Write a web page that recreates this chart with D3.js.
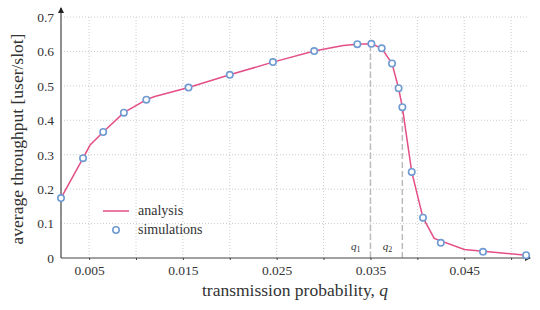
<!DOCTYPE html>
<html>
<head>
<meta charset="utf-8">
<script src="https://cdn.jsdelivr.net/npm/d3@7"></script>
<style>
  body { margin: 0; background: #fff; }
  text { font-family: "Liberation Serif", "DejaVu Serif", serif; fill: #333; }
</style>
</head>
<body>
<script>
// Simulation points (q, throughput)
var simQ = [0.002, 0.00435, 0.0065, 0.0087, 0.0111, 0.0156, 0.02, 0.0246, 0.029, 0.0336,
            0.0351, 0.0362, 0.0373, 0.038, 0.0384, 0.0394, 0.0406, 0.0425, 0.047, 0.0516];
var simVal = [0.174, 0.29, 0.366, 0.422, 0.46, 0.495, 0.532, 0.569, 0.601, 0.621,
              0.622, 0.609, 0.565, 0.493, 0.438, 0.25, 0.117, 0.044, 0.018, 0.008];

// Analysis curve (q, throughput)
var anaQ = [0.002, 0.00435, 0.0051, 0.0065, 0.0087, 0.0111, 0.012, 0.0156, 0.02, 0.0246,
            0.029, 0.0321, 0.0336, 0.0351, 0.0362, 0.0373, 0.038, 0.0384, 0.0394, 0.0406,
            0.0418, 0.045, 0.0516];
var anaVal = [0.174, 0.29, 0.328, 0.366, 0.422, 0.46, 0.469, 0.495, 0.532, 0.569,
              0.601, 0.617, 0.621, 0.622, 0.609, 0.565, 0.493, 0.438, 0.25, 0.117,
              0.057, 0.025, 0.008];

var xTicks = [0.005, 0.015, 0.025, 0.035, 0.045];
var xGrid = [0.005, 0.01, 0.015, 0.02, 0.025, 0.03, 0.035, 0.04, 0.045, 0.05];
var yTicks = [0, 0.1, 0.2, 0.3, 0.4, 0.5, 0.6, 0.7];

// Critical points q1, q2
var markQ = [0.035, 0.0384];
var markVal = [0.622, 0.438];
var markLabel = ["1", "2"];

var width = 540, height = 310;
var margin = { left: 61, right: 12, top: 10, bottom: 52 };

var svg = d3.select("body").append("svg")
    .attr("width", width)
    .attr("height", height);

var x = d3.scaleLinear().domain([0.002, 0.0518]).range([margin.left, width - margin.right]);
var y = d3.scaleLinear().domain([0, 0.7]).range([height - margin.bottom, 17]);

var axisColor = "#444";

// Grid
svg.append("g").selectAll("line")
    .data(xGrid)
    .enter().append("line")
    .attr("x1", function(d) { return x(d); })
    .attr("x2", function(d) { return x(d); })
    .attr("y1", y(0))
    .attr("y2", y(0.7))
    .style("stroke", "#ccc")
    .style("stroke-width", 1)
    .style("stroke-dasharray", "1,2");

svg.append("g").selectAll("line")
    .data(yTicks.slice(1))
    .enter().append("line")
    .attr("x1", x.range()[0])
    .attr("x2", x.range()[1])
    .attr("y1", function(d) { return y(d); })
    .attr("y2", function(d) { return y(d); })
    .style("stroke", "#ccc")
    .style("stroke-width", 1)
    .style("stroke-dasharray", "1,2");

// Dashed q1 / q2 lines
svg.append("g").selectAll("line")
    .data(markQ)
    .enter().append("line")
    .attr("x1", function(d) { return x(d); })
    .attr("x2", function(d) { return x(d); })
    .attr("y1", y(0))
    .attr("y2", function(d, i) { return y(markVal[i]); })
    .style("stroke", "#bbb")
    .style("stroke-width", 1.5)
    .style("stroke-dasharray", "6,3");

var qLab = svg.append("g").selectAll("text")
    .data(markQ)
    .enter().append("text")
    .attr("x", function(d) { return x(d) - 10; })
    .attr("y", y(0) - 8)
    .attr("text-anchor", "end")
    .style("font-size", "11px")
    .style("font-style", "italic")
    .text("q");
qLab.append("tspan")
    .attr("dy", 2)
    .style("font-size", "8px")
    .style("font-style", "normal")
    .text(function(d, i) { return markLabel[i]; });

// Axes
var xAxis = svg.append("g")
    .attr("transform", "translate(0," + y(0) + ")")
    .call(d3.axisBottom(x).tickValues(xGrid).tickSize(2).tickPadding(2)
      .tickFormat(function(d) { return xTicks.some(function(t) { return Math.abs(t - d) < 1e-9; }) ? d3.format(".3f")(d) : ""; }));
xAxis.select(".domain").remove();
xAxis.selectAll("line").style("stroke", axisColor);
xAxis.selectAll("text").style("font-size", "13.5px").attr("dy", "0.95em")
    .style("font-family", "Liberation Serif").style("fill", "#333");

var yAxis = svg.append("g")
    .attr("transform", "translate(" + margin.left + ",0)")
    .call(d3.axisLeft(y).tickValues(yTicks).tickSize(0).tickPadding(7)
      .tickFormat(function(d) { return d === 0 ? "0" : d3.format(".1f")(d); }));
yAxis.select(".domain").remove();
yAxis.selectAll("text").style("font-size", "13.5px")
    .style("font-family", "Liberation Serif").style("fill", "#333");

// Axis lines with arrows
svg.append("defs").append("marker")
    .attr("id", "arrow")
    .attr("viewBox", "0 0 6 6")
    .attr("refX", 5).attr("refY", 3)
    .attr("markerWidth", 5).attr("markerHeight", 5)
    .attr("orient", "auto")
    .append("path")
    .attr("d", "M0,0 L6,3 L0,6 Z")
    .style("fill", "#222");

svg.append("line")
    .attr("x1", margin.left).attr("x2", width - margin.right + 2)
    .attr("y1", y(0)).attr("y2", y(0))
    .style("stroke", axisColor).style("stroke-width", 1.2)
    .attr("marker-end", "url(#arrow)");
svg.append("line")
    .attr("x1", margin.left).attr("x2", margin.left)
    .attr("y1", y(0)).attr("y2", 8)
    .style("stroke", axisColor).style("stroke-width", 1.2)
    .attr("marker-end", "url(#arrow)");

// Analysis line
var line = d3.line()
    .x(function(d, i) { return x(anaQ[i]); })
    .y(function(d) { return y(d); });

svg.append("path")
    .datum(anaVal)
    .attr("d", line)
    .style("fill", "none")
    .style("stroke", "#e34f86")
    .style("stroke-width", 1.5);

// Simulation markers
svg.append("g").selectAll("circle")
    .data(simVal)
    .enter().append("circle")
    .attr("cx", function(d, i) { return x(simQ[i]); })
    .attr("cy", function(d) { return y(d); })
    .attr("r", 3.2)
    .style("fill", "#fff")
    .style("stroke", "#6f9bd2")
    .style("stroke-width", 1.6);

// Axis labels
svg.append("text")
    .attr("x", 295)
    .attr("y", 296)
    .attr("text-anchor", "middle")
    .style("font-size", "17.5px")
    .html("transmission probability, <tspan style='font-style:italic'>q</tspan>");

svg.append("text")
    .attr("transform", "translate(23," + 139 + ") rotate(-90)")
    .attr("text-anchor", "middle")
    .style("font-size", "17.5px")
    .text("average throughput [user/slot]");

// Legend
var legend = svg.append("g");
legend.append("line")
    .attr("x1", 103).attr("x2", 129)
    .attr("y1", 211).attr("y2", 211)
    .style("stroke", "#e34f86").style("stroke-width", 1.5);
legend.append("text")
    .attr("x", 138).attr("y", 215)
    .style("font-size", "14px")
    .text("analysis");
legend.append("circle")
    .attr("cx", 116).attr("cy", 230)
    .attr("r", 3.2)
    .style("fill", "#fff").style("stroke", "#6f9bd2").style("stroke-width", 1.6);
legend.append("text")
    .attr("x", 138).attr("y", 234)
    .style("font-size", "14px")
    .text("simulations");
</script>
</body>
</html>
